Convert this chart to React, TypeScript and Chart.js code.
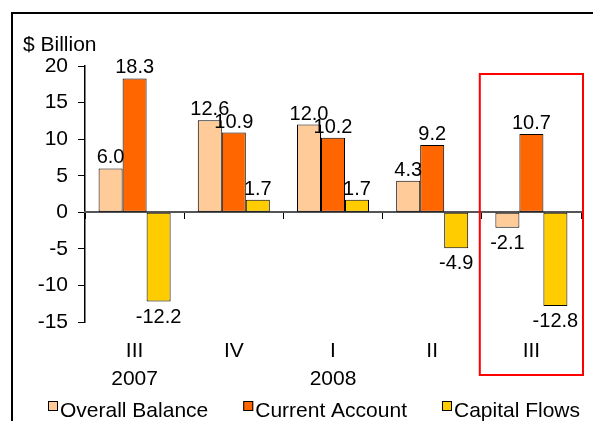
import React, { useEffect, useRef } from 'react';
import { Chart, registerables } from 'chart.js';

Chart.register(...registerables);

const categories: string[][] = [['III', '2007'], ['IV', ''], ['I', '2008'], ['II', ''], ['III', '']];
const seriesNames = ['Overall Balance', 'Current Account', 'Capital Flows'];
const overallBalance = [6.0, 12.6, 12.0, 4.3, -2.1];
const currentAccount = [18.3, 10.9, 10.2, 9.2, 10.7];
const capitalFlows = [-12.2, 1.7, 1.7, -4.9, -12.8];
const seriesColors = ['#FFCC99', '#FF6600', '#FFCC00'];
const yMin = -15;
const yMax = 20;
const yStep = 5;
const unitLabel = '$ Billion';
const highlightIndex = 4;

const FONT = "'Liberation Sans', Arial, Helvetica, sans-serif";

const dataLabelsPlugin = {
  id: 'dataLabels',
  afterDatasetsDraw(chart: any) {
    const ctx = chart.ctx;
    ctx.save();
    ctx.font = `20px ${FONT}`;
    ctx.fillStyle = '#000';
    ctx.textAlign = 'center';
    ctx.textBaseline = 'alphabetic';
    chart.data.datasets.forEach((ds: any, di: number) => {
      const meta = chart.getDatasetMeta(di);
      meta.data.forEach((el: any, i: number) => {
        const v = ds.data[i] as number;
        const txt = v.toFixed(1);
        if (v >= 0) ctx.fillText(txt, el.x, el.y - 5);
        else ctx.fillText(txt, el.x, el.y + 21);
      });
    });
    ctx.restore();
  },
};

const legendPlugin = {
  id: 'boxLegend',
  afterDraw(chart: any) {
    const ctx = chart.ctx;
    ctx.save();
    ctx.font = `21px ${FONT}`;
    ctx.textAlign = 'left';
    ctx.textBaseline = 'alphabetic';
    let x = 48;
    chart.data.datasets.forEach((ds: any) => {
      ctx.fillStyle = ds.backgroundColor;
      ctx.fillRect(x, 401, 10, 10);
      ctx.strokeStyle = '#000';
      ctx.lineWidth = 1;
      ctx.strokeRect(x + 0.5, 401.5, 9, 9);
      ctx.fillStyle = '#000';
      ctx.fillText(ds.label, x + 12, 416.5);
      x += 12 + ctx.measureText(ds.label).width + 35;
    });
    ctx.restore();
  },
};

const framePlugin = {
  id: 'frame',
  afterDraw(chart: any) {
    const ctx = chart.ctx;
    ctx.save();
    ctx.strokeStyle = '#000';
    ctx.lineWidth = 2;
    ctx.beginPath();
    ctx.moveTo(12, chart.height);
    ctx.lineTo(12, 13);
    ctx.lineTo(chart.width, 13);
    ctx.stroke();
    const xs = chart.scales.x;
    const cx = xs.getPixelForValue(highlightIndex);
    const half = xs.width / categories.length / 2;
    ctx.strokeStyle = '#FF0000';
    ctx.lineWidth = 2;
    ctx.strokeRect(cx - half - 2, 74, 2 * half + 4, 301);
    ctx.restore();
  },
};

export default function App() {
  const ref = useRef<HTMLCanvasElement>(null);
  useEffect(() => {
    Chart.defaults.font.family = FONT;
    const values = [overallBalance, currentAccount, capitalFlows];
    const chart = new Chart(ref.current as HTMLCanvasElement, {
      type: 'bar',
      data: {
        labels: categories,
        datasets: seriesNames.map((name, i) => ({
          label: name,
          data: values[i],
          backgroundColor: seriesColors[i],
          borderColor: '#000',
          borderWidth: 1,
          borderSkipped: false,
          barPercentage: 1,
          categoryPercentage: 0.726,
          xAxisID: 'x',
        })),
      },
      options: {
        responsive: false,
        animation: false,
        devicePixelRatio: 1,
        layout: { padding: { left: 23, right: 12, top: 0, bottom: 0 } },
        plugins: {
          tooltip: { enabled: false },
          legend: { display: false },
          title: {
            display: true,
            text: unitLabel,
            align: 'start',
            color: '#000',
            font: { size: 21, weight: 'normal' },
            padding: { top: 33, bottom: 7.8 },
          },
        },
        scales: {
          y: {
            min: yMin,
            max: yMax,
            ticks: { stepSize: yStep, color: '#000', font: { size: 21 }, padding: 10 },
            grid: { drawOnChartArea: false, drawTicks: true, tickLength: 7, tickColor: '#000' },
            border: { color: '#000', width: 1.5 },
            afterFit: (s: any) => { s.width = 62; },
          },
          x: {
            type: 'category',
            position: { y: 0 },
            offset: true,
            grid: { offset: true, drawOnChartArea: false, drawTicks: true, tickLength: 6, tickColor: '#000' },
            ticks: { display: false },
            border: { color: '#555', width: 2 },
          },
          x2: {
            type: 'category',
            labels: categories as any,
            position: 'bottom',
            offset: true,
            grid: { display: false, drawTicks: false },
            border: { display: false },
            ticks: { color: '#000', font: { size: 21, lineHeight: 1.35 }, padding: 15, maxRotation: 0, autoSkip: false },
            afterFit: (s: any) => { s.height = 99; },
          },
        } as any,
      },
      plugins: [dataLabelsPlugin, legendPlugin, framePlugin],
    } as any);
    return () => chart.destroy();
  }, []);
  return (
    <div style={{ position: 'absolute', left: 0, top: 0, width: 593, height: 421, background: '#fff' }}>
      <canvas ref={ref} width={593} height={421} style={{ display: 'block', width: 593, height: 421 }} />
    </div>
  );
}
